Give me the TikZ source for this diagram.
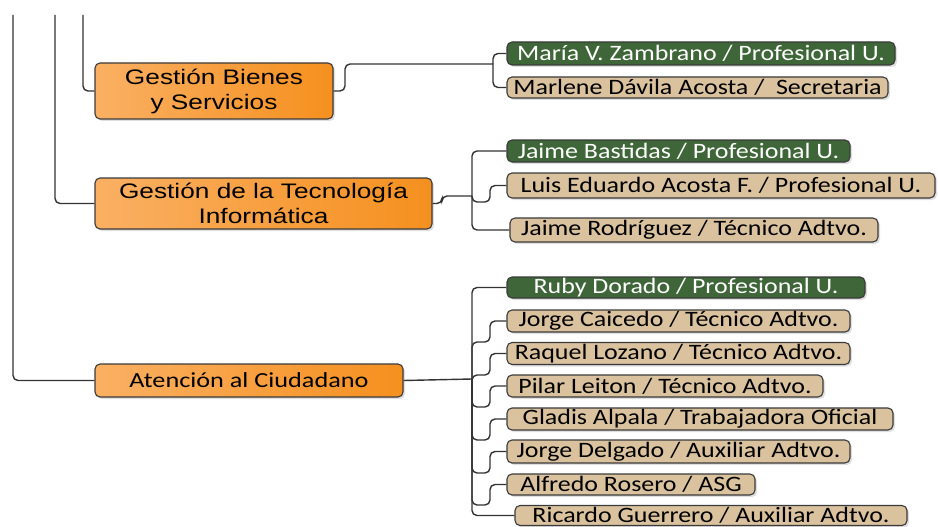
\documentclass[tikz,border=0pt]{standalone}
\usepackage{fontspec}
\setmainfont{Carlito}
\newfontfamily\calw[FakeStretch=1.18]{Carlito}
\newfontfamily\calo[FakeStretch=1.22]{Carlito}
\newfontfamily\arialf[FakeStretch=1.25]{Liberation Sans}
\usetikzlibrary{shadows}
\definecolor{orL}{HTML}{FAB063}
\definecolor{orD}{HTML}{F5901F}
\definecolor{grn}{HTML}{3E6638}
\definecolor{tan}{HTML}{DAC29E}
\definecolor{lin}{HTML}{333333}
\definecolor{bord}{HTML}{3A3A3A}
\tikzset{
  conn/.style={draw=lin, line width=1.4pt, rounded corners=5pt},
  orbox/.style={draw=bord, line width=1.1pt, rounded corners=5pt, left color=orL, right color=orD,
    inner sep=0pt, align=center, drop shadow={opacity=0.25, shadow xshift=2pt, shadow yshift=-2pt}},
  pbox/.style={draw=bord, line width=1.1pt, rounded corners=5pt, inner sep=0pt,
    font=\calw\fontsize{22}{24}\selectfont, drop shadow={opacity=0.25, shadow xshift=2pt, shadow yshift=-2pt}},
  gbox/.style={pbox, fill=grn, text=white},
  tbox/.style={pbox, fill=tan, text=black},
}
\begin{document}
\begin{tikzpicture}[x=1pt,y=-1pt]
\useasboundingbox (0,0) rectangle (938,527);
% orange boxes
\node[orbox, minimum width=238pt, minimum height=56pt, font=\arialf\fontsize{21}{25}\selectfont] (gbs) at (214,91) {Gestión Bienes\\y Servicios};
\node[orbox, minimum width=337pt, minimum height=51pt, font=\arialf\fontsize{21}{25}\selectfont] (tec) at (263.5,203.5) {Gestión de la Tecnología\\Informática};
\node[orbox, minimum width=308pt, minimum height=33pt, font=\calo\fontsize{21.5}{23}\selectfont] (atc) at (249,380.5) {Atención al Ciudadano};
% people
\node[gbox, minimum width=388pt, minimum height=23pt] (mz) at (701,53.5) {María V. Zambrano / Profesional U.};
\node[tbox, minimum width=381pt, minimum height=21pt] (md) at (697.5,87.5) {Marlene Dávila Acosta /\ \ Secretaria};
\node[gbox, minimum width=343pt, minimum height=22pt] (jb) at (678.5,151) {Jaime Bastidas / Profesional U.};
\node[tbox, minimum width=428pt, minimum height=25pt] (le) at (721,185.5) {Luis Eduardo Acosta F. / Profesional U.};
\node[tbox, minimum width=368pt, minimum height=24pt] (jr) at (694,230) {Jaime Rodríguez / Técnico Adtvo.};
\node[gbox, minimum width=358pt, minimum height=21pt] (rd) at (686,287.5) {Ruby Dorado / Profesional U.};
\node[tbox, minimum width=343pt, minimum height=22pt] (jc) at (678.5,321) {Jorge Caicedo / Técnico Adtvo.};
\node[tbox, minimum width=343pt, minimum height=22pt] (rl) at (678.5,353.5) {Raquel Lozano / Técnico Adtvo.};
\node[tbox, minimum width=316pt, minimum height=22pt] (pl) at (665,386) {Pilar Leiton / Técnico Adtvo.};
\node[tbox, minimum width=386pt, minimum height=22pt] (ga) at (700,419) {Gladis Alpala / Trabajadora Oficial};
\node[tbox, minimum width=343pt, minimum height=23pt] (jd) at (678.5,451.5) {Jorge Delgado / Auxiliar Adtvo.};
\node[tbox, minimum width=248pt, minimum height=21pt] (ar) at (631,484.5) {Alfredo Rosero / ASG};
\node[tbox, minimum width=392pt, minimum height=20pt] (rg) at (711,515.5) {Ricardo Guerrero / Auxiliar Adtvo.};
% coordinates
\coordinate (t1) at (13,15);
\coordinate (t2) at (55,15);
\coordinate (t3) at (83,15);
\coordinate (b1) at (493,64);
\coordinate (b2) at (472,196);
\coordinate (b3) at (472,379);
% left lines
\draw[conn] (t1) |- (atc.west);
\draw[conn] (t2) |- (tec.west);
\draw[conn] (t3) |- (gbs.west);
% branch 1
\draw[conn] (gbs.east) -- (345,91) |- (b1);
\draw[conn] (b1) |- (mz.west);
\draw[conn] (b1) |- (md.west);
% branch 2
\draw[conn] (tec.east) -- (442,203.5) |- (b2);
\draw[conn] (b2) |- (jb.west);
\draw[conn] (b2) |- (490,202) |- (le.west);
\draw[conn] (b2) |- (jr.west);
% branch 3
\draw[conn] (atc.east) -- (b3);
\draw[conn] (b3) |- (rd.west);
\draw[conn] (b3) |- (490,342) |- (jc.west);
\draw[conn] (b3) |- (490,375) |- (rl.west);
\draw[conn] (b3) |- (490,407) |- (pl.west);
\draw[conn] (b3) |- (490,440) |- (ga.west);
\draw[conn] (b3) |- (490,473) |- (jd.west);
\draw[conn] (b3) |- (490,505) |- (ar.west);
\draw[conn] (b3) |- (rg.west);
\end{tikzpicture}
\end{document}
